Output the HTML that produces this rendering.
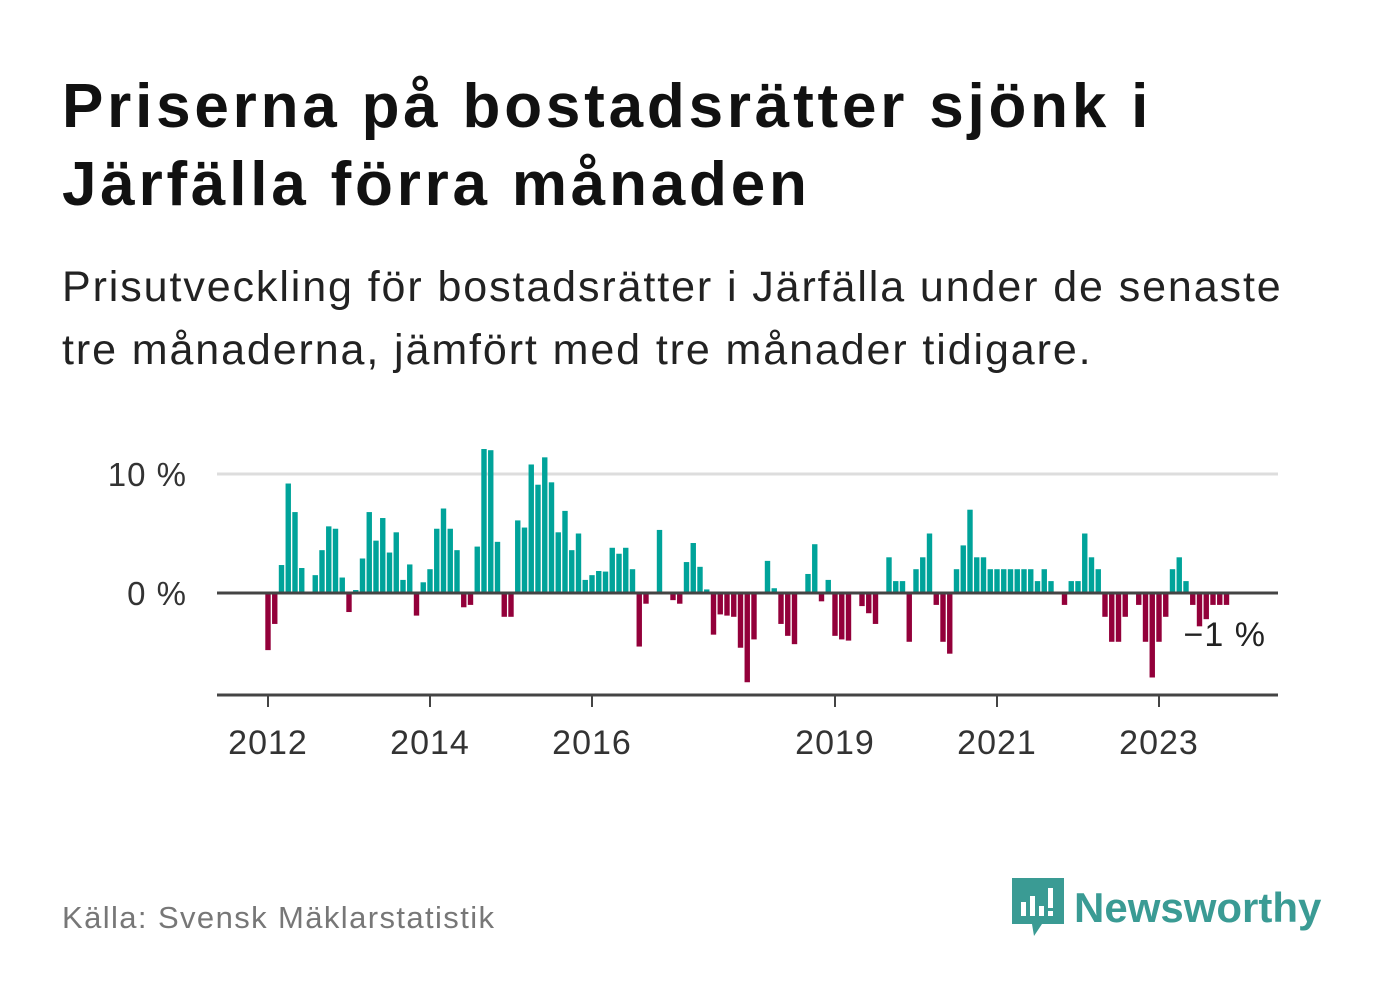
<!DOCTYPE html>
<html><head><meta charset="utf-8"><style>
body{margin:0;background:#fff;width:1382px;height:999px;overflow:hidden;font-family:"Liberation Sans",sans-serif}
h1{position:absolute;left:62px;top:68px;margin:0;font-size:62px;line-height:78px;font-weight:bold;color:#111;width:1180px;letter-spacing:3.8px}
.sub{position:absolute;left:62px;top:256px;font-size:43px;line-height:63px;color:#222;width:1290px;letter-spacing:1.9px}
.src{position:absolute;left:62px;top:900px;font-size:31px;color:#777;letter-spacing:1.4px}
.logo{position:absolute;left:1012px;top:878px;display:flex;align-items:center}
.logo span{font-size:42px;font-weight:bold;color:#3a9b94;margin-left:10px}
</style></head><body>
<h1>Priserna på bostadsrätter sjönk i Järfälla förra månaden</h1>
<div class="sub">Prisutveckling för bostadsrätter i Järfälla under de senaste tre månaderna, jämfört med tre månader tidigare.</div>
<svg id="chart" style="position:absolute;left:0;top:0" width="1382" height="999"></svg>
<div class="src">Källa: Svensk Mäklarstatistik</div>
<div class="logo">
<svg width="52" height="60" viewBox="0 0 52 60"><path d="M0 0H52V46H30L22 58L20 46H0Z" fill="#3a9b94"/><rect x="9" y="24" width="5" height="14" fill="#fff"/><rect x="18" y="18" width="5" height="20" fill="#fff"/><rect x="27" y="28" width="5" height="10" fill="#fff"/><rect x="36" y="10" width="5" height="20" fill="#fff"/><rect x="36" y="33" width="5" height="5" fill="#fff"/></svg>
<span>Newsworthy</span></div>
<script>
const values=[-4.8,-2.6,2.35,9.2,6.8,2.1,0,1.5,3.6,5.6,5.4,1.3,-1.6,0.25,2.9,6.8,4.4,6.3,3.4,5.1,1.1,2.4,-1.9,0.9,2.0,5.4,7.1,5.4,3.6,-1.2,-1.0,3.9,12.1,12.0,4.3,-2.0,-2.0,6.1,5.5,10.8,9.1,11.4,9.3,5.1,6.9,3.6,5.0,1.1,1.5,1.85,1.8,3.8,3.3,3.8,2.0,-4.5,-0.9,0,5.3,0,-0.6,-0.9,2.6,4.2,2.2,0.3,-3.5,-1.8,-1.9,-2.0,-4.6,-7.5,-3.9,0,2.7,0.4,-2.6,-3.6,-4.3,0,1.6,4.1,-0.7,1.1,-3.6,-3.9,-4.0,0,-1.1,-1.7,-2.6,0,3.0,1.0,1.0,-4.1,2.0,3.0,5.0,-1.0,-4.1,-5.1,2.0,4.0,7.0,3.0,3.0,2.0,2.0,2.0,2.0,2.0,2.0,2.0,1.0,2.0,1.0,0,-1.0,1.0,1.0,5.0,3.0,2.0,-2.0,-4.1,-4.1,-2.0,0,-1.0,-4.1,-7.1,-4.1,-2.0,2.0,3.0,1.0,-1.0,-2.8,-2.2,-1.0,-1.0,-1.0];
const yTicks=[0,10];
const yTickLabels=["0 %","10 %"];
const xTickYears=[2012,2014,2016,2019,2021,2023];
const lastLabel="−1 %";
const startYear=2012;
const svg=document.getElementById('chart');
const NS='http://www.w3.org/2000/svg';
const x0=268,mw=6.75,y0=593,yk=11.9;
const X=i=>x0+i*mw, Y=v=>y0-v*yk;
function mk(t,a){const e=document.createElementNS(NS,t);for(const k in a)e.setAttribute(k,a[k]);svg.appendChild(e);return e;}
yTicks.forEach((t,j)=>{
 if(t!==0){const g=mk('line',{x1:217,x2:1278,y1:Y(t),y2:Y(t),stroke:'#ddd','stroke-width':3});
 
 }
 const l=mk('text',{x:187,y:Y(t)+12,'text-anchor':'end','font-size':33,fill:'#333','font-family':'Liberation Sans,sans-serif','letter-spacing':1});
 l.textContent=yTickLabels[j];
 
 
});
values.forEach((v,i)=>{
 if(v===0)return;
 const r=mk('rect',{x:X(i)-2.7,width:5.4,y:Math.min(Y(v),y0),height:Math.abs(Y(v)-y0),fill:v>0?'#00a39a':'#93003a'});
 
 
});
const z=mk('line',{x1:217,x2:1278,y1:y0,y2:y0,stroke:'#444','stroke-width':3});


const ax=mk('line',{x1:217,x2:1278,y1:695,y2:695,stroke:'#444','stroke-width':3});


xTickYears.forEach(yr=>{
 const x=X((yr-startYear)*12);
 const t=mk('line',{x1:x,x2:x,y1:695,y2:707,stroke:'#444','stroke-width':2});
 
 
 const l=mk('text',{x:x,y:754,'text-anchor':'middle','font-size':34,fill:'#333','font-family':'Liberation Sans,sans-serif','letter-spacing':1});
 l.textContent=yr;
 
 
});
const ll=mk('text',{x:1266,y:646,'text-anchor':'end','font-size':34,fill:'#222','font-family':'Liberation Sans,sans-serif',stroke:'#fff','stroke-width':5,'paint-order':'stroke','letter-spacing':1});
ll.textContent=lastLabel;


</script>
</body></html>
